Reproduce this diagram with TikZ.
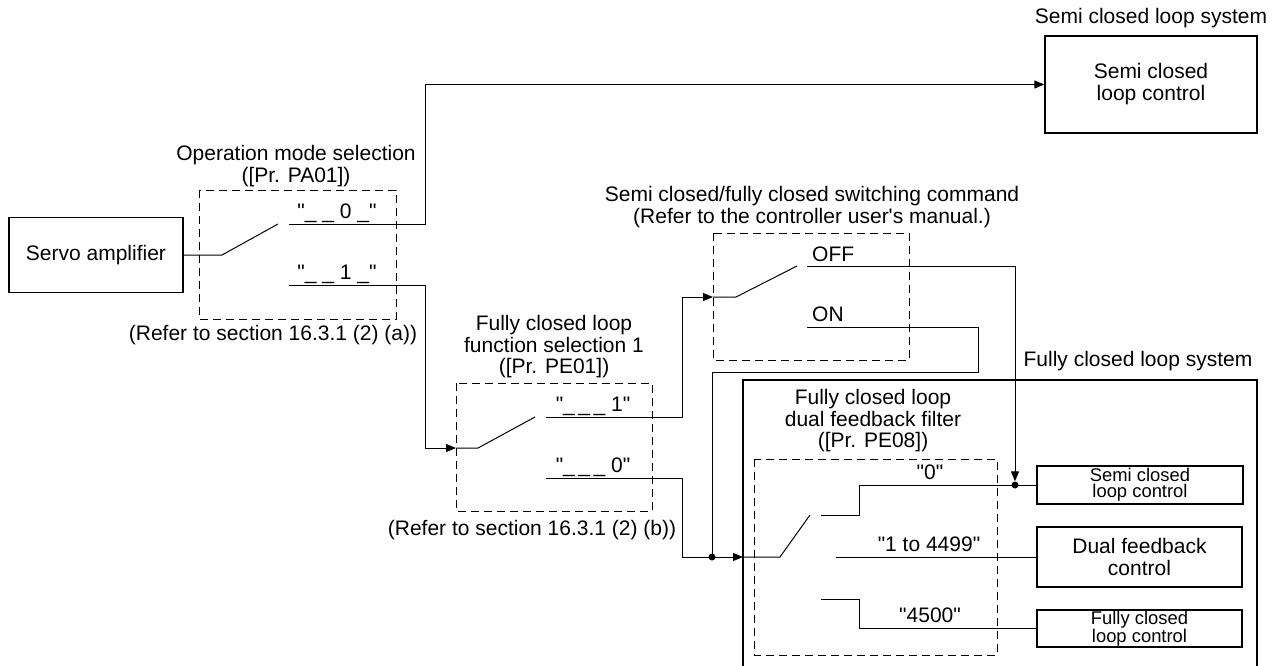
\documentclass[tikz,border=0pt]{standalone}
\usepackage{fontspec}
\setmainfont{Liberation Sans}[Ligatures=TeXOff]
\usetikzlibrary{arrows.meta}
\tikzset{
  lbl/.style={inner sep=0pt, font=\fontsize{21}{21.5}\selectfont, align=center},
  blk/.style={draw, line width=1.3pt, inner sep=0pt, font=\fontsize{21}{22}\selectfont, align=center},
  sblk/.style={draw, line width=1.3pt, inner sep=0pt, font=\fontsize{18.4}{16}\selectfont, align=center},
  dbox/.style={draw, line width=0.9pt, dash pattern=on 8pt off 5pt},
  wire/.style={line width=1pt},
  arr/.style={-{Triangle[length=10pt,width=8pt]}},
  dotc/.style={circle, fill, inner sep=0pt, minimum size=7pt},
}
\begin{document}
\begin{tikzpicture}[x=1pt,y=-1pt]
\useasboundingbox (0,0) rectangle (1282,665);

% blocks
\node[blk, minimum width=174pt, minimum height=75pt] (servo) at (96,255) {Servo amplifier};
\node[blk, minimum width=212pt, minimum height=97pt] (sc) at (1151,84.5) {Semi closed\\loop control};
\node[sblk, minimum width=206pt, minimum height=38pt] (sc2) at (1140,485) {Semi closed\\loop control};
\node[blk, minimum width=205pt, minimum height=60pt] (df) at (1139.5,557) {Dual feedback\\control};
\node[sblk, minimum width=205pt, minimum height=37pt] (fc) at (1139.5,628.5) {Fully closed\\loop control};

% system frame
\draw[line width=1.3pt] (743,668) -- (743,380) -- (1257,380) -- (1257,668);

% dashed selector boxes
\draw[dbox] (199,190) rectangle (396,319);
\draw[dbox] (456,383) rectangle (652,511);
\draw[dbox] (713,233) rectangle (909,360);
\draw[dbox] (754,459) rectangle (997,655);

% labels
\node[lbl] (lsys1) at (1151,18) {Semi closed loop system};
\node[lbl] (lop) at (296,166) {Operation mode selection\\([Pr. PA01])};
\node[lbl] (lrefa) at (273,335) {(Refer to section 16.3.1 (2) (a))};
\node[lbl] (lfs) at (554,347) {Fully closed loop\\function selection 1\\([Pr. PE01])};
\node[lbl] (lrefb) at (532,530) {(Refer to section 16.3.1 (2) (b))};
\node[lbl] (lsw) at (812,207) {Semi closed/fully closed switching command\\(Refer to the controller user's manual.)};
\node[lbl] (lsys2) at (1138,361) {Fully closed loop system};
\node[lbl] (lfb) at (873,421) {Fully closed loop\\dual feedback filter\\([Pr. PE08])};

% contact labels
\node[lbl, anchor=base] (t0) at (337,218) {"\_ \_ 0 \_"};
\node[lbl, anchor=base] (t1) at (337,279) {"\_ \_ 1 \_"};
\node[lbl, anchor=base] (u1) at (593,411) {"\_\,\_\,\_ 1"};
\node[lbl, anchor=base] (u0) at (593,472) {"\_\,\_\,\_ 0"};
\node[lbl, anchor=base west] (toff) at (812,261) {OFF};
\node[lbl, anchor=base west] (ton) at (812,321) {ON};
\node[lbl, anchor=base] (v0) at (930,479) {"0"};
\node[lbl, anchor=base] (v1) at (929,551) {"1 to 4499"};
\node[lbl, anchor=base] (v2) at (930,622) {"4500"};

% junction dots
\node[dotc] (dA) at (712,557) {};
\node[dotc] (dB) at (1015,485) {};

% switch points
\coordinate (in2) at (456,448);
\coordinate (in3) at (713,297);
\coordinate (in4) at (743,557);

% operation mode switch
\draw[wire] (servo.east) -- (222,255) -- (278,224);
\draw[wire,arr] (289,224) -- (425,224) |- (sc.west);
\draw[wire,arr] (289,285) -- (425,285) |- (in2);

% function selection switch
\draw[wire] (in2) -- (478,448) -- (535,417);
\draw[wire,arr] (546,417) -- (682,417) |- (in3);
\draw[wire] (546,478) -- (682,478) |- (dA.center);
\draw[wire,arr] (dA.center) -- (in4);

% switching command switch
\draw[wire] (in3) -- (736,297) -- (797,266);
\draw[wire,arr] (807,266) -- (1015,266) -- (dB.north);
\draw[wire] (807,327) -- (978,327) -- (978,372) -- (712,372) -- (dA.center);

% dual feedback filter switch
\draw[wire] (in4) -- (780,557) -- (810,515);
\draw[wire] (821,515) -- (859,515) |- (sc2.west);
\draw[wire] (836,557) -- (df.west);
\draw[wire] (821,599) -- (859,599) |- (fc.west);
\end{tikzpicture}
\end{document}
